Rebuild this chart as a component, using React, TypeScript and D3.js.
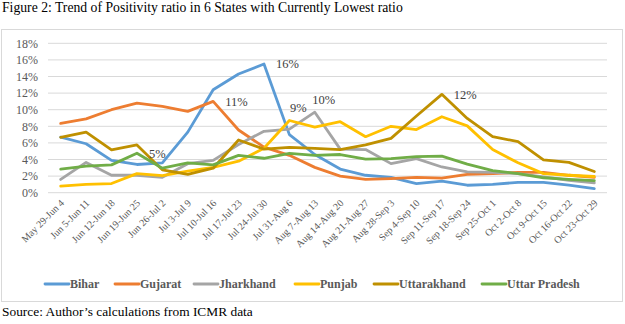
import React from "react";
import * as d3 from "d3";

const categories = [
  "May 29-Jun 4", "Jun 5-Jun 11", "Jun 12-Jun 18", "Jun 19-Jun 25", "Jun 26-Jul 2",
  "Jul 3-Jul 9", "Jul 10-Jul 16", "Jul 17-Jul 23", "Jul 24-Jul 30", "Jul 31-Aug 6",
  "Aug 7-Aug 13", "Aug 14-Aug 20", "Aug 21-Aug 27", "Aug 28-Sep 3", "Sep 4-Sep 10",
  "Sep 11-Sep 17", "Sep 18-Sep 24", "Sep 25-Oct 1", "Oct 2-Oct 8", "Oct 9-Oct 15",
  "Oct 16-Oct 22", "Oct 23-Oct 29",
];

const bihar = [6.7, 5.9, 3.9, 3.4, 3.6, 7.3, 12.4, 14.3, 15.5, 7.0, 4.6, 2.85, 2.1, 1.85, 1.1, 1.4, 0.9, 1.0, 1.25, 1.25, 0.9, 0.5];
const gujarat = [8.35, 8.9, 10.0, 10.8, 10.4, 9.8, 11.0, 7.55, 5.5, 4.5, 3.05, 2.0, 1.6, 1.7, 1.85, 1.75, 2.2, 2.3, 2.45, 2.45, 2.1, 1.85];
const jharkhand = [1.6, 3.65, 2.1, 2.1, 1.85, 3.5, 3.9, 5.8, 7.4, 7.65, 9.7, 5.25, 5.2, 3.5, 4.1, 3.1, 2.5, 2.45, 2.3, 1.9, 1.5, 1.2];
const punjab = [0.8, 1.0, 1.1, 2.3, 2.05, 2.6, 3.05, 3.8, 5.35, 8.7, 7.9, 8.55, 6.75, 8.0, 7.6, 9.15, 8.05, 5.2, 3.6, 2.3, 2.1, 1.95];
const uttarakhand = [6.67, 7.3, 5.15, 5.75, 2.75, 2.2, 2.95, 6.35, 5.25, 5.45, 5.35, 5.2, 5.75, 6.55, 9.25, 11.85, 8.95, 6.75, 6.15, 3.95, 3.65, 2.55];
const uttarPradesh = [2.85, 3.2, 3.35, 4.75, 2.95, 3.6, 3.35, 4.5, 4.15, 4.75, 4.5, 4.6, 4.05, 4.1, 4.35, 4.4, 3.45, 2.65, 2.3, 1.8, 1.6, 1.45];

const seriesNames = ["Bihar", "Gujarat", "Jharkhand", "Punjab", "Uttarakhand", "Uttar Pradesh"];
const seriesValues = [bihar, gujarat, jharkhand, punjab, uttarakhand, uttarPradesh];
const seriesColors = ["#5b9bd5", "#ed7d31", "#a5a5a5", "#ffc000", "#bf9000", "#70ad47"];

const yTicks = [0, 2, 4, 6, 8, 10, 12, 14, 16, 18];

// data labels: series index, category index, text, placement
const dataLabels = [
  { s: 0, i: 8, text: "16%", pos: "right" },
  { s: 1, i: 6, text: "11%", pos: "right" },
  { s: 5, i: 3, text: "5%", pos: "right" },
  { s: 3, i: 9, text: "9%", pos: "above" },
  { s: 2, i: 10, text: "10%", pos: "above" },
  { s: 4, i: 15, text: "12%", pos: "right" },
];

const titleText = "Figure 2: Trend of Positivity ratio in 6 States with Currently Lowest ratio";
const sourceText = "Source: Author\u2019s calculations from ICMR data";

const W = 625;
const H = 324;
const legendX = [45, 115, 194, 295, 374, 482];

const serif = "'Liberation Serif', 'Times New Roman', 'DejaVu Serif', serif";

export default function App() {
  const x = d3.scalePoint<string>().domain(categories).range([48, 607]).padding(0.5);
  const y = d3.scaleLinear().domain([0, 18]).range([192.7, 43.3]);
  const line = d3
    .line<number>()
    .x((_, i) => x(categories[i]) as number)
    .y((d) => y(d));

  const ts = { fontFamily: serif };

  return (
    <svg
      width={W}
      height={H}
      style={{ position: "absolute", left: 0, top: 0, background: "#fff", fontFamily: serif }}
    >
      <rect x={0} y={0} width={W} height={H} fill="#fff" />
      <text x={2} y={12} fontSize={13.7} fill="#000" style={ts}>{titleText}</text>
      <rect x={1.5} y={29.5} width={621} height={272} fill="none" stroke="#d9d9d9" strokeWidth={1} />

      {yTicks.map((t) => (
        <g key={t}>
          <line x1={48} x2={607} y1={y(t)} y2={y(t)} stroke="#d9d9d9" strokeWidth={1} />
          <text x={38} y={y(t)} dy="0.35em" textAnchor="end" fontSize={12} fill="#595959" style={ts}>
            {t}%
          </text>
        </g>
      ))}

      {categories.map((c) => {
        const cx = (x(c) as number) + 4;
        const cy = y(0) + 11;
        return (
          <text
            key={c}
            x={cx}
            y={cy}
            transform={`rotate(-45 ${cx} ${cy})`}
            textAnchor="end"
            fontSize={10}
            fill="#595959"
            style={ts}
          >
            {c}
          </text>
        );
      })}

      {seriesValues.map((vals, s) => (
        <path
          key={seriesNames[s]}
          d={line(vals) || ""}
          fill="none"
          stroke={seriesColors[s]}
          strokeWidth={2.8}
          strokeLinejoin="round"
          strokeLinecap="round"
        />
      ))}

      {dataLabels.map((l) => {
        const px = x(categories[l.i]) as number;
        const py = y(seriesValues[l.s][l.i]);
        if (l.pos === "right") {
          return (
            <text key={l.text} x={px + 12} y={py} dy="0.35em" fontSize={12.5} fill="#404040" style={ts}>
              {l.text}
            </text>
          );
        }
        return (
          <text key={l.text} x={px + 9} y={py - 8} textAnchor="middle" fontSize={12.5} fill="#404040" style={ts}>
            {l.text}
          </text>
        );
      })}

      {seriesNames.map((n, s) => (
        <g key={n}>
          <line x1={legendX[s]} x2={legendX[s] + 24} y1={284} y2={284} stroke={seriesColors[s]} strokeWidth={2.8} strokeLinecap="round" />
          <text x={legendX[s] + 25} y={284} dy="0.35em" fontSize={12} fontWeight="bold" fill="#595959" style={ts}>
            {n}
          </text>
        </g>
      ))}

      <text x={2} y={316} fontSize={13.4} fill="#000" style={ts}>{sourceText}</text>
    </svg>
  );
}
